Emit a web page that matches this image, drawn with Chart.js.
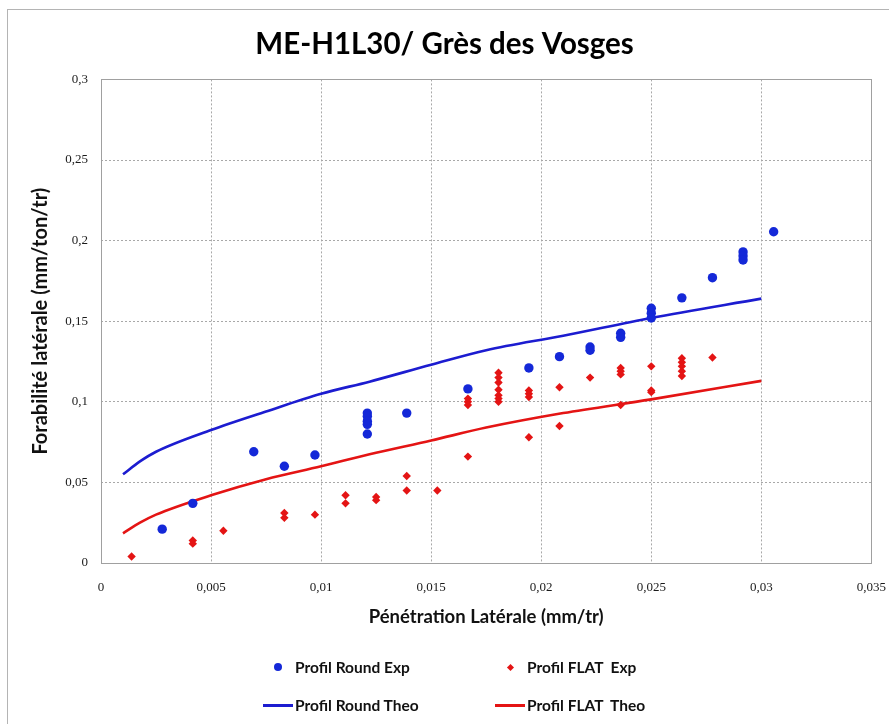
<!DOCTYPE html>
<html>
<head>
<meta charset="utf-8">
<title>ME-H1L30/ Grès des Vosges</title>
<script src="https://cdn.jsdelivr.net/npm/chart.js@4.4.0/dist/chart.umd.min.js"></script>
<style>
  body { margin: 0; background: #fff; }
  #wrap { position: relative; width: 889px; height: 724px; overflow: hidden; }
  #frame { position: absolute; left: 7px; top: 9px; width: 900px; height: 730px;
           border-left: 1px solid #b4b4b4; border-top: 1px solid #b4b4b4; }
  #chart { position: absolute; left: 0; top: 0; }
  #legend { position: absolute; left: 0; top: 0; width: 889px; height: 724px;
            font-family: Lato, sans-serif; font-weight: bold; font-size: 15.5px; color: #111; }
  .item { position: absolute; display: flex; align-items: center; height: 20px; white-space: pre; }
  .mark { position: relative; width: 30px; height: 20px; margin-right: 2px; }
  .mark span { position: absolute; }
</style>
</head>
<body>
<div id="wrap">
  <div id="frame"></div>
  <canvas id="chart" width="889" height="724"></canvas>
  <div id="legend"></div>
</div>
<script>
// axis ticks
const xTickValues = [0, 0.005, 0.01, 0.015, 0.02, 0.025, 0.03, 0.035];
const xTickLabels = ['0', '0,005', '0,01', '0,015', '0,02', '0,025', '0,03', '0,035'];
const yTickValues = [0, 0.05, 0.1, 0.15, 0.2, 0.25, 0.3];
const yTickLabels = ['0', '0,05', '0,1', '0,15', '0,2', '0,25', '0,3'];

// Profil Round - mesures
const roundExpX = [0.00278, 0.00417, 0.00694, 0.00833, 0.00972,
  0.0121, 0.0121, 0.0121, 0.0121, 0.0121, 0.01389, 0.01667, 0.01944, 0.02083,
  0.02222, 0.02222, 0.02361, 0.02361, 0.025, 0.025, 0.025, 0.02639, 0.02778,
  0.02917, 0.02917, 0.02917, 0.03056];
const roundExpY = [0.021, 0.037, 0.069, 0.060, 0.067,
  0.093, 0.091, 0.088, 0.086, 0.080, 0.093, 0.108, 0.121, 0.128,
  0.134, 0.132, 0.1425, 0.140, 0.158, 0.155, 0.152, 0.1645, 0.177,
  0.193, 0.1905, 0.188, 0.2055];

// Profil FLAT - mesures
const flatExpX = [0.00139, 0.00417, 0.00417, 0.00556, 0.00833, 0.00833, 0.00972,
  0.01111, 0.01111, 0.0125, 0.0125, 0.01389, 0.01389, 0.01528,
  0.01667, 0.01667, 0.01667, 0.01667,
  0.01806, 0.01806, 0.01806, 0.01806, 0.01806, 0.01806, 0.01806,
  0.01944, 0.01944, 0.01944, 0.01944, 0.02083, 0.02083, 0.02222,
  0.02361, 0.02361, 0.02361, 0.02361, 0.025, 0.025, 0.025,
  0.02639, 0.02639, 0.02639, 0.02639, 0.02639, 0.02778];
const flatExpY = [0.004, 0.014, 0.012, 0.020, 0.031, 0.028, 0.030,
  0.042, 0.037, 0.041, 0.039, 0.054, 0.045, 0.045,
  0.102, 0.100, 0.098, 0.066,
  0.118, 0.115, 0.112, 0.1075, 0.104, 0.102, 0.100,
  0.107, 0.105, 0.103, 0.078, 0.109, 0.085, 0.115,
  0.121, 0.119, 0.117, 0.098, 0.122, 0.107, 0.106,
  0.127, 0.1245, 0.122, 0.119, 0.116, 0.1275];

// courbes théoriques
const roundTheoX = [0.001, 0.00177, 0.0025, 0.005, 0.0075, 0.01, 0.0122, 0.015, 0.0175, 0.021, 0.025, 0.03];
const roundTheoY = [0.055, 0.063, 0.069, 0.0825, 0.094, 0.105, 0.1125, 0.123, 0.132, 0.141, 0.152, 0.164];
const flatTheoX = [0.001, 0.00177, 0.0025, 0.005, 0.0075, 0.01, 0.0122, 0.015, 0.0175, 0.021, 0.025, 0.03];
const flatTheoY = [0.0184, 0.025, 0.030, 0.042, 0.052, 0.060, 0.0674, 0.076, 0.084, 0.093, 0.1015, 0.113];

const BLUE = '#1428d8';
const RED = '#e41414';

const pts = (xs, ys) => xs.map((x, i) => ({ x: x, y: ys[i] }));

const datasets = [
  { label: 'Profil Round Exp', data: pts(roundExpX, roundExpY), pointStyle: 'circle',
    pointRadius: 4.7, backgroundColor: BLUE, borderColor: BLUE, borderWidth: 0, order: 0 },
  { label: 'Profil FLAT  Exp', data: pts(flatExpX, flatExpY), pointStyle: 'rectRot',
    pointRadius: 4.2, backgroundColor: RED, borderColor: RED, borderWidth: 0, order: 0 },
  { label: 'Profil Round Theo', data: pts(roundTheoX, roundTheoY), showLine: true,
    pointRadius: 0, borderColor: '#1c1cd0', borderWidth: 2.6, cubicInterpolationMode: 'monotone', order: 1 },
  { label: 'Profil FLAT  Theo', data: pts(flatTheoX, flatTheoY), showLine: true,
    pointRadius: 0, borderColor: RED, borderWidth: 2.6, cubicInterpolationMode: 'monotone', order: 1 }
];

// cadre plein autour de la zone de tracé
const plotFrame = {
  id: 'plotFrame',
  beforeDatasetsDraw(chart) {
    const { ctx, chartArea: a } = chart;
    ctx.save();
    ctx.strokeStyle = '#a0a0a0';
    ctx.lineWidth = 1;
    ctx.strokeRect(Math.round(a.left) + 0.5, Math.round(a.top) + 0.5,
      Math.round(a.right - a.left), Math.round(a.bottom - a.top));
    ctx.restore();
  }
};

const tickFont = { family: 'Liberation Serif', size: 13 };

new Chart(document.getElementById('chart'), {
  type: 'scatter',
  data: { datasets: datasets },
  options: {
    responsive: false,
    animation: false,
    devicePixelRatio: 1,
    // la marge droite vient du dernier libellé de l'axe x
    layout: { padding: { left: 0, right: 0, top: 0, bottom: 91 } },
    plugins: {
      legend: { display: false },
      tooltip: { enabled: false },
      title: {
        display: true,
        text: 'ME-H1L30/ Grès des Vosges',
        color: '#000',
        font: { family: 'Lato', size: 29.5, weight: 'bold' },
        padding: { top: 27, bottom: 17 }
      }
    },
    scales: {
      x: {
        type: 'linear', min: 0, max: 0.035,
        afterBuildTicks: s => { s.ticks = xTickValues.map(v => ({ value: v })); },
        afterFit: s => { s.height = 70; },
        ticks: { padding: 3, color: '#1a1a1a', font: tickFont, maxRotation: 0,
                 callback: (v, i) => xTickLabels[i] },
        grid: { color: '#a8a8a8', lineWidth: 1, drawTicks: true, tickLength: 14, tickColor: 'rgba(0,0,0,0)' },
        border: { display: false, dash: [2, 2] },
        title: { display: true, text: 'Pénétration Latérale (mm/tr)', color: '#111',
                 font: { family: 'Lato', size: 18.5, weight: 'bold' }, padding: { top: 0, bottom: 5 } }
      },
      y: {
        type: 'linear', min: 0, max: 0.3,
        afterBuildTicks: s => { s.ticks = yTickValues.map(v => ({ value: v })); },
        afterFit: s => { s.width = 101; },
        ticks: { padding: 13, color: '#1a1a1a', font: tickFont,
                 callback: (v, i) => yTickLabels[i] },
        grid: { color: '#a8a8a8', lineWidth: 1, drawTicks: false },
        border: { display: false, dash: [2, 2] },
        title: { display: true, text: 'Forabilité latérale (mm/ton/tr)', color: '#111',
                 font: { family: 'Lato', size: 20, weight: 'bold' }, padding: { top: 29, bottom: 0 } }
      }
    }
  },
  plugins: [plotFrame]
});

// légende 2 x 2 sous le graphique
const legendCols = [263, 495];
const legendRows = [667, 705];
const legend = document.getElementById('legend');
datasets.forEach((ds, i) => {
  const item = document.createElement('div');
  item.className = 'item';
  item.style.left = legendCols[i % 2] + 'px';
  item.style.top = (legendRows[Math.floor(i / 2)] - 10) + 'px';
  const mark = document.createElement('div');
  mark.className = 'mark';
  const m = document.createElement('span');
  if (ds.showLine) {
    Object.assign(m.style, { left: '0px', top: '9px', width: '30px', height: '2.5px', background: ds.borderColor });
  } else if (ds.pointStyle === 'circle') {
    Object.assign(m.style, { left: '11px', top: '6px', width: '8px', height: '8px', borderRadius: '50%', background: ds.backgroundColor });
  } else {
    Object.assign(m.style, { left: '13px', top: '8px', width: '5px', height: '5px', transform: 'rotate(45deg)', background: ds.backgroundColor });
  }
  mark.appendChild(m);
  item.appendChild(mark);
  item.appendChild(document.createTextNode(ds.label));
  legend.appendChild(item);
});
</script>
</body>
</html>
